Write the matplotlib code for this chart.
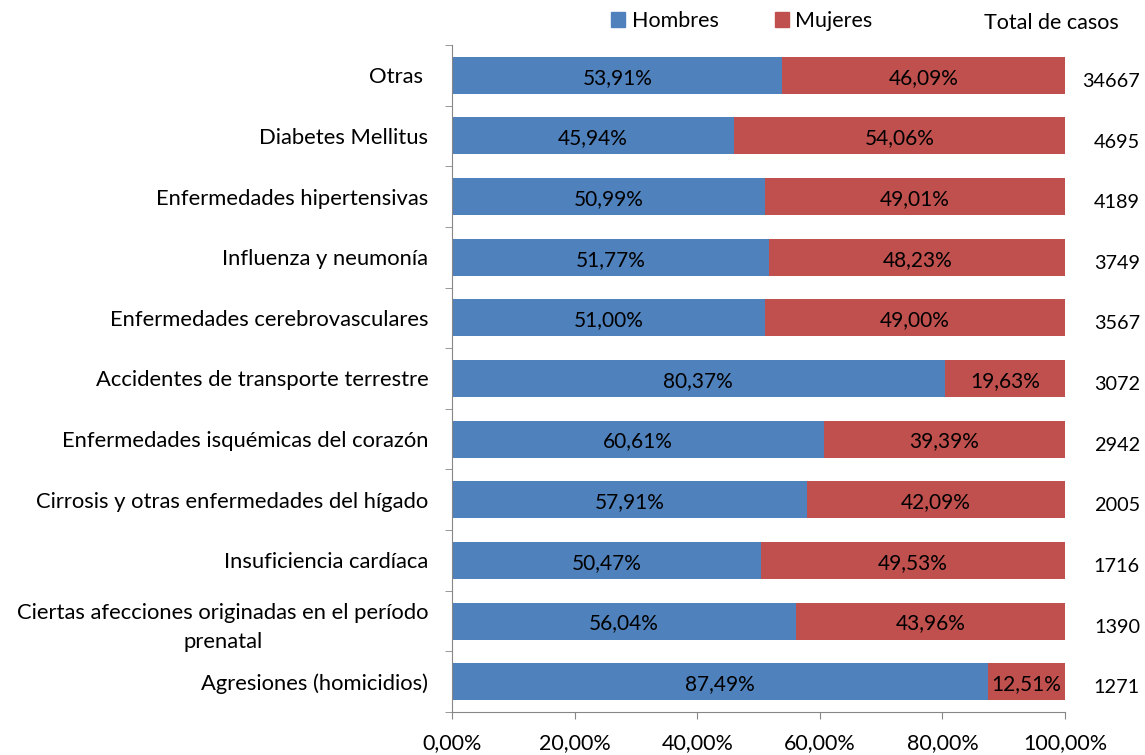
import matplotlib
matplotlib.use("Agg")
import matplotlib.pyplot as plt
from matplotlib.ticker import FuncFormatter
from matplotlib.patches import Patch

plt.rcParams["font.family"] = ["Lato", "DejaVu Sans"]

# Causes listed top to bottom
causas = [
    "Otras ",
    "Diabetes Mellitus",
    "Enfermedades hipertensivas",
    "Influenza y neumonía",
    "Enfermedades cerebrovasculares",
    "Accidentes de transporte terrestre",
    "Enfermedades isquémicas del corazón",
    "Cirrosis y otras enfermedades del hígado",
    "Insuficiencia cardíaca",
    "Ciertas afecciones originadas en el período\nprenatal",
    "Agresiones (homicidios)",
]
hombres = [53.91, 45.94, 50.99, 51.77, 51.00, 80.37, 60.61, 57.91, 50.47, 56.04, 87.49]
mujeres = [46.09, 54.06, 49.01, 48.23, 49.00, 19.63, 39.39, 42.09, 49.53, 43.96, 12.51]
total_casos = [34667, 4695, 4189, 3749, 3567, 3072, 2942, 2005, 1716, 1390, 1271]
x_ticks = [0, 20, 40, 60, 80, 100]

AZUL = "#4F81BD"
ROJO = "#C0504D"
GRIS = "#868686"
FS_TXT = 15.8
FS_BAR = 15
FS_NUM = 14.3


def pct(v):
    return f"{v:.2f}%".replace(".", ",")


fig = plt.figure(figsize=(11.45, 7.55), dpi=100)
ax = fig.add_axes([0.3948, 0.057, 0.5353, 0.8834])

n = len(causas)
ypos = [n - 1 - i for i in range(n)]

ax.barh(ypos, hombres, height=0.61, color=AZUL)
ax.barh(ypos, mujeres, left=hombres, height=0.61, color=ROJO)

for y, h, m, t in zip(ypos, hombres, mujeres, total_casos):
    ax.text(h / 2, y - 0.04, pct(h), ha="center", va="center", fontsize=FS_BAR)
    ax.text(h + m / 2, y - 0.04, pct(m), ha="center", va="center", fontsize=FS_BAR)
    ax.text(1.1223, y - 0.1, str(t), transform=ax.get_yaxis_transform(),
            ha="right", va="center", fontsize=FS_NUM)

ax.set_xlim(0, 100)
ax.set_ylim(-0.5, n - 0.5)
ax.set_xticks(x_ticks)
ax.xaxis.set_major_formatter(FuncFormatter(lambda v, _: pct(v)))
ax.set_yticks(ypos)
ax.set_yticklabels(causas, fontsize=FS_TXT)
for lbl in ax.get_yticklabels():
    lbl.set_multialignment("center")
    lbl.set_linespacing(1.55)
ax.tick_params(axis="y", length=0, pad=17)
ax.tick_params(axis="x", labelsize=15.5, length=5, color=GRIS, pad=10)

# short separators between categories on the left axis
ax.set_yticks([i - 0.5 for i in range(n + 1)], minor=True)
ax.tick_params(axis="y", which="minor", length=5, color=GRIS)

for s in ["top", "right"]:
    ax.spines[s].set_visible(False)
for s in ["left", "bottom"]:
    ax.spines[s].set_color(GRIS)

handles = [Patch(color=AZUL, label="Hombres"), Patch(color=ROJO, label="Mujeres")]
fig.legend(handles=handles, loc="center", bbox_to_anchor=(0.648, 0.972), ncol=2,
           frameon=False, fontsize=15.5, handlelength=0.65, handleheight=0.65,
           handletextpad=0.3, columnspacing=2.6)
fig.text(0.918, 0.969, "Total de casos", ha="center", va="center", fontsize=15.5)

fig.savefig("out.png", dpi=100, facecolor="white")
